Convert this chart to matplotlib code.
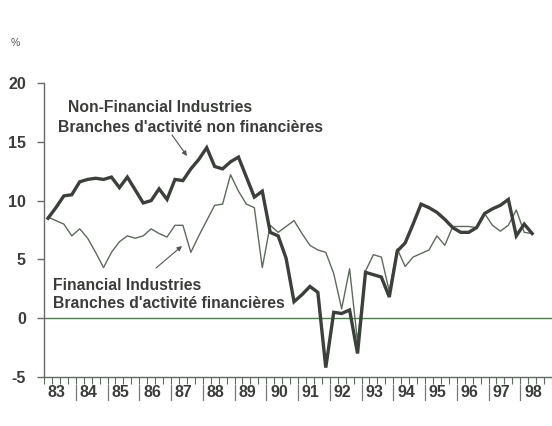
import matplotlib
matplotlib.use('Agg')
import matplotlib.pyplot as plt
import matplotlib.transforms as mtransforms

# ---- data (quarterly, 1983Q1 - 1998Q2), % ----
start_year = 1983
year_labels = ['83', '84', '85', '86', '87', '88', '89', '90',
               '91', '92', '93', '94', '95', '96', '97', '98']
y_ticks = [-5, 0, 5, 10, 15, 20]

non_financial = [8.5, 9.4, 10.4, 10.5, 11.6, 11.8, 11.9, 11.8,
                 12.0, 11.1, 12.0, 10.9, 9.8, 10.0, 11.0, 10.1,
                 11.8, 11.7, 12.7, 13.5, 14.5, 12.9, 12.7, 13.3,
                 13.7, 12.0, 10.3, 10.8, 7.3, 7.0, 5.1, 1.4,
                 2.0, 2.7, 2.2, -4.2, 0.5, 0.4, 0.7, -3.0,
                 3.9, 3.7, 3.5, 1.8, 5.7, 6.4, 8.0, 9.7,
                 9.4, 9.0, 8.4, 7.7, 7.3, 7.3, 7.7, 8.9,
                 9.3, 9.6, 10.1, 7.0, 8.0, 7.2]

financial = [8.6, 8.3, 8.0, 7.0, 7.6, 6.8, 5.6, 4.3,
             5.6, 6.5, 7.0, 6.8, 7.0, 7.6, 7.2, 6.9,
             7.9, 7.9, 5.6, 7.0, 8.3, 9.6, 9.7, 12.2,
             10.8, 9.7, 9.4, 4.3, 7.9, 7.3, 7.8, 8.3,
             7.2, 6.2, 5.8, 5.6, 3.8, 0.8, 4.2, -2.0,
             4.0, 5.4, 5.2, 2.3, 5.9, 4.4, 5.2, 5.5,
             5.8, 7.0, 6.2, 7.8, 7.8, 7.8, 7.7, 8.9,
             7.9, 7.4, 7.9, 9.2, 7.3, 7.2]

label_nonfin = ['Non-Financial Industries', "Branches d'activité non financières"]
label_fin = ['Financial Industries', "Branches d'activité financières"]

# ---- styling ----
W, H = 552, 426
thick_col = '#3b403b'
thin_col = '#5c6b5c'
axis_col = '#5a6e5a'
text_col = '#3a3d3a'
font = {'family': ['Liberation Sans', 'DejaVu Sans'], 'weight': 'bold'}

fig = plt.figure(figsize=(W / 100, H / 100), dpi=100)
fig.patch.set_facecolor('white')
ax = fig.add_axes([44 / W, 1 - 377 / H, (W - 44) / W, (377 - 83) / H])

quarters = [start_year + i / 4 for i in range(len(non_financial))]

ax.axhline(0, color='#4f7a4f', lw=1.0, zorder=1)
ax.plot(quarters, financial, color=thin_col, lw=1.0, zorder=2)
ax.plot(quarters, non_financial, color=thick_col, lw=2.4, zorder=3,
        solid_joinstyle='miter')

ax.set_xlim(start_year - 0.015, start_year + 15.76)
ax.set_ylim(-5, 20)

for s in ['top', 'right']:
    ax.spines[s].set_visible(False)
ax.spines['left'].set_color('#6a6a6a')
ax.spines['left'].set_linewidth(1.0)
ax.spines['bottom'].set_color(axis_col)
ax.spines['bottom'].set_linewidth(1.0)

ax.set_yticks(y_ticks)
ax.set_yticklabels([str(v) for v in y_ticks], fontdict=font, fontsize=11.5,
                   color=text_col)
ax.tick_params(axis='y', length=5, width=1, color='#6a6a6a', pad=8)

# quarterly ticks on x axis
nq = len(year_labels) * 4
ax.set_xticks([start_year - 0.125 + i / 4 for i in range(nq + 1)])
ax.set_xticklabels([])
ax.tick_params(axis='x', length=5, width=0.8, color=axis_col, direction='out')

# year labels with separators
trans = mtransforms.blended_transform_factory(ax.transData, ax.transAxes)
for k, lab in enumerate(year_labels):
    yr = start_year + k
    ax.text(yr + 0.0, -0.052, lab, transform=trans, ha='left', va='center',
            fontsize=11.5, color=text_col, **font)
    if k > 0:
        ax.plot([yr - 0.125, yr - 0.125], [-0.027, -0.077], transform=trans,
                color='#777777', lw=0.9, clip_on=False)

# percent sign
fig.text(15 / W, 1 - 43 / H, '%', fontsize=7.5, color='#555555',
         ha='center', va='center', family=['Liberation Sans', 'DejaVu Sans'])

# annotations
def fp(x, y):
    return (x, H - y)

fs_lab = 11.3
fig.text(68 / W, 1 - 107 / H, label_nonfin[0], fontsize=fs_lab, color=text_col,
         ha='left', va='center', **font)
fig.text(58 / W, 1 - 127 / H, label_nonfin[1], fontsize=fs_lab, color=text_col,
         ha='left', va='center', **font)
fig.text(53 / W, 1 - 286 / H, label_fin[0], fontsize=fs_lab, color=text_col,
         ha='left', va='center', **font)
fig.text(53 / W, 1 - 304 / H, label_fin[1], fontsize=fs_lab, color=text_col,
         ha='left', va='center', **font)

ax.annotate('', xy=fp(187, 156), xycoords='figure pixels',
            xytext=fp(172, 135), textcoords='figure pixels',
            arrowprops=dict(arrowstyle='-|>', color='#555555', lw=0.8,
                            mutation_scale=7, shrinkA=0, shrinkB=0))
ax.annotate('', xy=fp(182, 246), xycoords='figure pixels',
            xytext=fp(156, 268), textcoords='figure pixels',
            arrowprops=dict(arrowstyle='-|>', color='#555555', lw=0.8,
                            mutation_scale=7, shrinkA=0, shrinkB=0))

fig.savefig('out.png', dpi=100, facecolor='white')
